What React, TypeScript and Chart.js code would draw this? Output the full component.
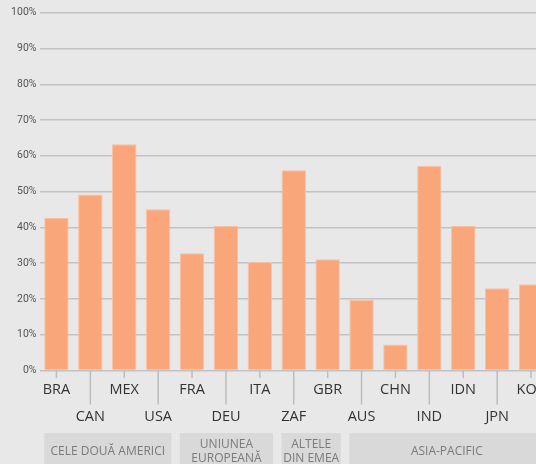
import React, { useEffect, useRef } from "react";
import { Chart, registerables } from "chart.js";

Chart.register(...registerables);

const categories = ["BRA", "CAN", "MEX", "USA", "FRA", "DEU", "ITA", "ZAF", "GBR", "AUS", "CHN", "IND", "IDN", "JPN", "KOR"];
const values = [42.6, 49.2, 63.2, 45.1, 32.8, 40.4, 30.3, 56.0, 31.1, 19.7, 7.3, 57.2, 40.4, 23.0, 24.1];
const groupLabels = [["CELE DOUĂ AMERICI"], ["UNIUNEA", "EUROPEANĂ"], ["ALTELE", "DIN EMEA"], ["ASIA-PACIFIC"]];
const groupFirst = [0, 4, 7, 9];
const groupLast = [3, 6, 8, 14];

const labelsPlugin = {
  id: "customLabels",
  afterDraw(chart: any) {
    const ctx = chart.ctx;
    const x = chart.scales.x;
    const area = chart.chartArea;
    const base = area.bottom;
    const step = x.getPixelForValue(1) - x.getPixelForValue(0);
    const barW = step * 0.72;
    ctx.save();
    // ticks and category labels
    categories.forEach((c, i) => {
      const px = x.getPixelForValue(i);
      const upper = i % 2 === 0;
      ctx.strokeStyle = "#bdbdbd";
      ctx.lineWidth = 1.5;
      ctx.beginPath();
      ctx.moveTo(px, base);
      ctx.lineTo(px, upper ? base + 7.5 : base + 34);
      ctx.stroke();
      ctx.fillStyle = "#333333";
      ctx.font = "14.5px 'Open Sans'";
      ctx.textAlign = "center";
      ctx.textBaseline = "middle";
      ctx.fillText(c, px, upper ? base + 19 : base + 46.5);
    });
    // group boxes
    groupLabels.forEach((lines, g) => {
      const l = x.getPixelForValue(groupFirst[g]) - barW / 2;
      const r = x.getPixelForValue(groupLast[g]) + barW / 2 + 1;
      const top = base + 62.5;
      ctx.fillStyle = "#d9d9da";
      ctx.fillRect(l, top, r - l, 40);
      ctx.fillStyle = "#7a7a7a";
      ctx.font = "12px 'Open Sans'";
      ctx.textAlign = "center";
      ctx.textBaseline = "middle";
      const cx = (l + r) / 2;
      if (lines.length === 1) {
        ctx.fillText(lines[0], cx, top + 19);
      } else {
        ctx.fillText(lines[0], cx, top + 11.5);
        ctx.fillText(lines[1], cx, top + 25.5);
      }
    });
    ctx.restore();
  },
};

export default function App() {
  const ref = useRef<HTMLCanvasElement>(null);
  useEffect(() => {
    if (!ref.current) return;
    const chart = new Chart(ref.current, {
      type: "bar",
      data: {
        labels: categories,
        datasets: [
          {
            data: values,
            backgroundColor: "#f8a67a",
            borderColor: "#fbbf9f",
            borderWidth: 1,
            barPercentage: 0.72,
            categoryPercentage: 1,
          },
        ],
      },
      options: {
        responsive: false,
        animation: false,
        devicePixelRatio: 1,
        layout: { padding: { left: 0, right: 12, top: 12.7, bottom: 93.5 } },
        plugins: { legend: { display: false }, tooltip: { enabled: false }, title: { display: false } },
        scales: {
          x: { display: false },
          y: {
            min: 0,
            max: 100,
            ticks: {
              stepSize: 10,
              padding: 3,
              color: "#555555",
              font: { family: "'Liberation Sans Narrow', 'Roboto'", size: 10.5 },
              callback: (v: any) => v + "%",
            },
            grid: { drawTicks: false, color: "#c2c2c2", lineWidth: 1.5 },
            border: { display: false },
            afterFit: (s: any) => {
              s.width = 39.5;
            },
          },
        },
      },
      plugins: [labelsPlugin],
    });
    return () => chart.destroy();
  }, []);
  return (
    <div style={{ position: "fixed", left: 0, top: 0, width: 536, height: 464, overflow: "hidden", background: "#e8e8e8" }}>
      <canvas ref={ref} width={560} height={464} style={{ display: "block" }} />
    </div>
  );
}
